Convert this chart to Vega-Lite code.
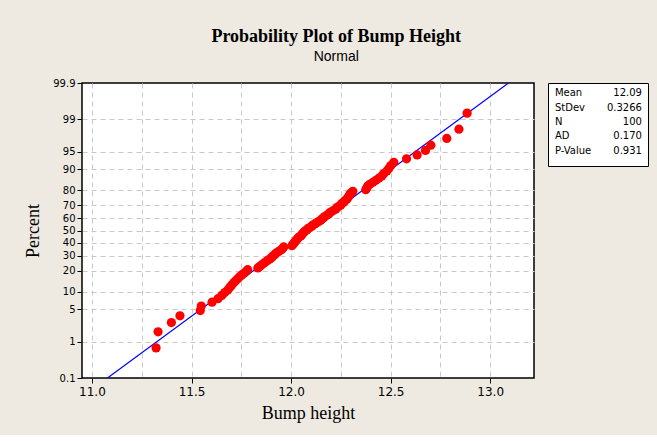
{
  "$schema": "https://vega.github.io/schema/vega-lite/v6.json",
  "background": "#EEEAE2",
  "padding": {"left": 23, "top": 28, "right": 8, "bottom": 12},
  "title": {
    "text": "Probability Plot of Bump Height",
    "subtitle": "Normal",
    "font": "Liberation Serif",
    "fontSize": 18,
    "fontWeight": "bold",
    "color": "#000000",
    "subtitleFont": "Liberation Sans",
    "subtitleFontSize": 14,
    "subtitleColor": "#000000",
    "subtitlePadding": 4,
    "anchor": "middle",
    "offset": 13
  },
  "bounds": "flush",
  "spacing": 14,
  "datasets": {
    "points": [
      {"h": 11.322, "z": -2.459}, {"h": 11.332, "z": -2.122}, {"h": 11.399, "z": -1.928}, {"h": 11.442, "z": -1.788},
      {"h": 11.544, "z": -1.677}, {"h": 11.549, "z": -1.583}, {"h": 11.603, "z": -1.501}, {"h": 11.633, "z": -1.428},
      {"h": 11.652, "z": -1.361}, {"h": 11.667, "z": -1.301}, {"h": 11.682, "z": -1.245}, {"h": 11.692, "z": -1.193},
      {"h": 11.702, "z": -1.143}, {"h": 11.712, "z": -1.096}, {"h": 11.722, "z": -1.052}, {"h": 11.732, "z": -1.009},
      {"h": 11.742, "z": -0.968}, {"h": 11.752, "z": -0.930}, {"h": 11.765, "z": -0.892}, {"h": 11.775, "z": -0.855},
      {"h": 11.782, "z": -0.820}, {"h": 11.833, "z": -0.785}, {"h": 11.843, "z": -0.752}, {"h": 11.853, "z": -0.719},
      {"h": 11.863, "z": -0.687}, {"h": 11.873, "z": -0.656}, {"h": 11.883, "z": -0.625}, {"h": 11.893, "z": -0.595},
      {"h": 11.903, "z": -0.566}, {"h": 11.908, "z": -0.536}, {"h": 11.918, "z": -0.508}, {"h": 11.923, "z": -0.480},
      {"h": 11.933, "z": -0.452}, {"h": 11.943, "z": -0.424}, {"h": 11.953, "z": -0.397}, {"h": 11.958, "z": -0.371},
      {"h": 11.963, "z": -0.344}, {"h": 12.004, "z": -0.318}, {"h": 12.009, "z": -0.292}, {"h": 12.014, "z": -0.266},
      {"h": 12.019, "z": -0.240}, {"h": 12.024, "z": -0.215}, {"h": 12.029, "z": -0.189}, {"h": 12.034, "z": -0.163},
      {"h": 12.039, "z": -0.138}, {"h": 12.049, "z": -0.113}, {"h": 12.054, "z": -0.088}, {"h": 12.059, "z": -0.062},
      {"h": 12.064, "z": -0.037}, {"h": 12.069, "z": -0.012}, {"h": 12.079, "z": 0.012}, {"h": 12.084, "z": 0.037},
      {"h": 12.094, "z": 0.062}, {"h": 12.104, "z": 0.088}, {"h": 12.109, "z": 0.113}, {"h": 12.119, "z": 0.138},
      {"h": 12.129, "z": 0.163}, {"h": 12.139, "z": 0.189}, {"h": 12.149, "z": 0.215}, {"h": 12.154, "z": 0.240},
      {"h": 12.164, "z": 0.266}, {"h": 12.169, "z": 0.292}, {"h": 12.179, "z": 0.318}, {"h": 12.189, "z": 0.344},
      {"h": 12.194, "z": 0.371}, {"h": 12.204, "z": 0.397}, {"h": 12.214, "z": 0.424}, {"h": 12.225, "z": 0.452},
      {"h": 12.230, "z": 0.480}, {"h": 12.240, "z": 0.508}, {"h": 12.250, "z": 0.536}, {"h": 12.255, "z": 0.566},
      {"h": 12.265, "z": 0.595}, {"h": 12.270, "z": 0.625}, {"h": 12.280, "z": 0.656}, {"h": 12.285, "z": 0.687},
      {"h": 12.290, "z": 0.719}, {"h": 12.295, "z": 0.752}, {"h": 12.300, "z": 0.785}, {"h": 12.310, "z": 0.820},
      {"h": 12.375, "z": 0.855}, {"h": 12.380, "z": 0.892}, {"h": 12.385, "z": 0.930}, {"h": 12.395, "z": 0.968},
      {"h": 12.411, "z": 1.009}, {"h": 12.426, "z": 1.052}, {"h": 12.441, "z": 1.096}, {"h": 12.456, "z": 1.143},
      {"h": 12.466, "z": 1.193}, {"h": 12.481, "z": 1.245}, {"h": 12.491, "z": 1.301}, {"h": 12.501, "z": 1.361},
      {"h": 12.516, "z": 1.428}, {"h": 12.580, "z": 1.501}, {"h": 12.633, "z": 1.583}, {"h": 12.675, "z": 1.677},
      {"h": 12.702, "z": 1.788}, {"h": 12.782, "z": 1.928}, {"h": 12.843, "z": 2.122}, {"h": 12.884, "z": 2.459}
    ],
    "fit": [
      {"h": 11.078, "z": -3.0902},
      {"h": 13.092, "z": 3.0902}
    ],
    "stats": [
      {"row": 1, "label": "Mean", "value": "12.09"},
      {"row": 2, "label": "StDev", "value": "0.3266"},
      {"row": 3, "label": "N", "value": "100"},
      {"row": 4, "label": "AD", "value": "0.170"},
      {"row": 5, "label": "P-Value", "value": "0.931"}
    ]
  },
  "hconcat": [
    {
      "width": 452,
      "height": 295,
      "view": {"fill": "#FFFFFF", "stroke": "#000000", "strokeWidth": 1.5},
      "resolve": {"axis": {"x": "independent"}},
      "layer": [
        {
          "data": {"name": "fit"},
          "mark": {"type": "line", "color": "#0000FF", "strokeWidth": 1.2, "clip": true},
          "encoding": {
            "x": {
              "field": "h", "type": "quantitative",
              "scale": {"domain": [10.95, 13.22], "nice": false, "zero": false},
              "axis": {"orient": "bottom", "grid": true, "labels": false, "ticks": false, "domain": false, "title": null,
                       "values": [11, 11.25, 11.5, 11.75, 12, 12.25, 12.5, 12.75, 13]}
            },
            "y": {
              "field": "z", "type": "quantitative",
              "scale": {"domain": [-3.0902, 3.0902], "nice": false, "zero": false},
              "axis": {
                "title": "Percent",
                "values": [-3.0902, -2.3263, -1.6449, -1.2816, -0.8416, -0.5244, -0.2533, 0, 0.2533, 0.5244, 0.8416, 1.2816, 1.6449, 2.3263, 3.0902],
                "labelExpr": "datum.value < -3 ? '0.1' : datum.value < -2 ? '1' : datum.value < -1.5 ? '5' : datum.value < -1 ? '10' : datum.value < -0.7 ? '20' : datum.value < -0.4 ? '30' : datum.value < -0.1 ? '40' : datum.value < 0.1 ? '50' : datum.value < 0.4 ? '60' : datum.value < 0.7 ? '70' : datum.value < 1 ? '80' : datum.value < 1.5 ? '90' : datum.value < 2 ? '95' : datum.value < 3 ? '99' : '99.9'",
                "grid": true,
                "gridOpacity": {"condition": {"test": "abs(datum.value) > 3", "value": 0}, "value": 1},
                "labelFontSize": 10,
                "labelPadding": 2,
                "tickSize": 5,
                "titlePadding": 10,
                "labelFlush": false,
                "labelOverlap": false
              }
            }
          }
        },
        {
          "data": {"name": "points"},
          "mark": {"type": "circle", "color": "#FF0000", "opacity": 1, "size": 85},
          "encoding": {
            "x": {
              "field": "h", "type": "quantitative",
              "scale": {"domain": [10.95, 13.22], "nice": false, "zero": false},
              "axis": {"orient": "bottom", "title": "Bump height", "values": [11, 11.5, 12, 12.5, 13], "format": ".1f",
                       "grid": false, "labelFontSize": 12, "labelPadding": 3, "tickSize": 5, "titlePadding": 7, "labelFlush": false}
            },
            "y": {
              "field": "z", "type": "quantitative",
              "scale": {"domain": [-3.0902, 3.0902], "nice": false, "zero": false},
              "axis": {
                "title": "Percent",
                "values": [-3.0902, -2.3263, -1.6449, -1.2816, -0.8416, -0.5244, -0.2533, 0, 0.2533, 0.5244, 0.8416, 1.2816, 1.6449, 2.3263, 3.0902],
                "labelExpr": "datum.value < -3 ? '0.1' : datum.value < -2 ? '1' : datum.value < -1.5 ? '5' : datum.value < -1 ? '10' : datum.value < -0.7 ? '20' : datum.value < -0.4 ? '30' : datum.value < -0.1 ? '40' : datum.value < 0.1 ? '50' : datum.value < 0.4 ? '60' : datum.value < 0.7 ? '70' : datum.value < 1 ? '80' : datum.value < 1.5 ? '90' : datum.value < 2 ? '95' : datum.value < 3 ? '99' : '99.9'",
                "grid": true,
                "gridOpacity": {"condition": {"test": "abs(datum.value) > 3", "value": 0}, "value": 1},
                "labelFontSize": 10,
                "labelPadding": 2,
                "tickSize": 5,
                "titlePadding": 10,
                "labelFlush": false,
                "labelOverlap": false
              }
            }
          }
        }
      ]
    },
    {
      "width": 100,
      "height": 83,
      "view": {"fill": "#FFFFFF", "stroke": "#000000", "strokeWidth": 1},
      "data": {"name": "stats"},
      "layer": [
        {
          "mark": {"type": "text", "align": "left", "baseline": "middle", "font": "DejaVu Sans", "fontSize": 10, "color": "#000000"},
          "encoding": {
            "x": {"datum": 0, "type": "quantitative", "scale": {"domain": [-0.08, 1.07], "nice": false, "zero": false}, "axis": null},
            "y": {"field": "row", "type": "quantitative", "scale": {"domain": [0.27, 6.07], "reverse": true, "nice": false, "zero": false}, "axis": null},
            "text": {"field": "label"}
          }
        },
        {
          "mark": {"type": "text", "align": "right", "baseline": "middle", "font": "DejaVu Sans", "fontSize": 10, "color": "#000000"},
          "encoding": {
            "x": {"datum": 1, "type": "quantitative", "scale": {"domain": [-0.08, 1.07], "nice": false, "zero": false}, "axis": null},
            "y": {"field": "row", "type": "quantitative", "scale": {"domain": [0.27, 6.07], "reverse": true, "nice": false, "zero": false}, "axis": null},
            "text": {"field": "value"}
          }
        }
      ]
    }
  ],
  "config": {
    "axis": {
      "labelFont": "DejaVu Sans",
      "labelColor": "#000000",
      "titleFont": "Liberation Serif",
      "titleFontWeight": "normal",
      "titleFontSize": 18,
      "titleColor": "#000000",
      "tickColor": "#000000",
      "tickWidth": 1,
      "domain": false,
      "gridColor": "#C8C8C8",
      "gridDash": [5, 4],
      "gridWidth": 1
    }
  }
}
